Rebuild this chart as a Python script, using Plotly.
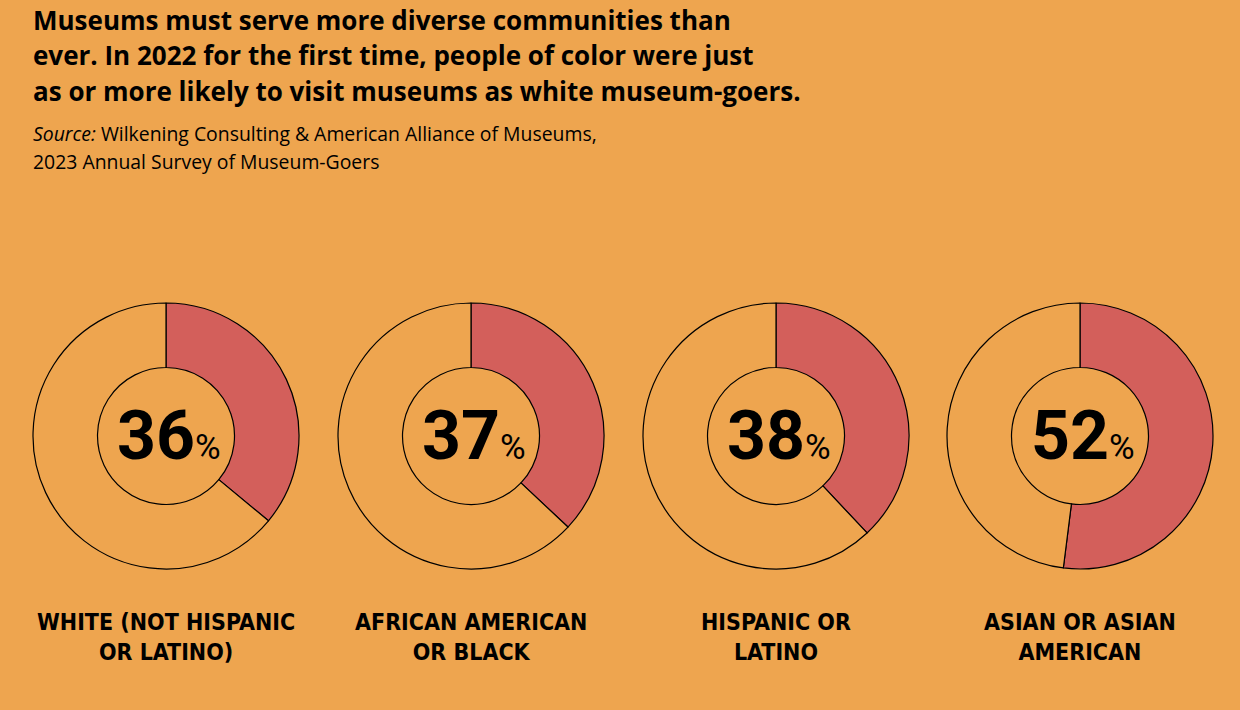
import plotly.graph_objects as go

# ---- data ----
categories = ["WHITE (NOT HISPANIC<br>OR LATINO)", "AFRICAN AMERICAN<br>OR BLACK",
              "HISPANIC OR<br>LATINO", "ASIAN OR ASIAN<br>AMERICAN"]
visit_share = [36, 37, 38, 52]

title_lines = ["Museums must serve more diverse communities than",
               "ever. In 2022 for the first time, people of color were just",
               "as or more likely to visit museums as white museum-goers."]
source_lines = ["<i>Source:</i> Wilkening Consulting & American Alliance of Museums,",
                "2023 Annual Survey of Museum-Goers"]

# ---- style ----
W, H = 1240, 710
BG = "#EEA54F"
RED = "#D35F5B"
centers_x = [166, 471, 776, 1080]
center_y = 436
R = 133
HOLE = 0.515

fig = go.Figure()
annotations = []

for i, (cat, v) in enumerate(zip(categories, visit_share)):
    cx = centers_x[i]
    fig.add_trace(go.Pie(
        values=[v, 100 - v],
        labels=["Visited", "Other"],
        hole=HOLE,
        sort=False,
        direction="clockwise",
        rotation=0,
        marker=dict(colors=[RED, BG], line=dict(color="black", width=1.2)),
        textinfo="none",
        hoverinfo="skip",
        showlegend=False,
        domain=dict(x=[(cx - R) / W, (cx + R) / W],
                    y=[(H - center_y - R) / H, (H - center_y + R) / H]),
    ))
    annotations.append(dict(
        x=(cx + 3) / W, y=(H - center_y) / H, xref="paper", yref="paper",
        xanchor="center", yanchor="middle", showarrow=False,
        text=f"<b>{v}</b><span style='font-size:35px;font-weight:400'>%</span>",
        font=dict(family="Roboto, Liberation Sans, sans-serif", size=68,
                  color="black", weight=900),
    ))
    annotations.append(dict(
        x=cx / W, y=(H - 637) / H, xref="paper", yref="paper",
        xanchor="center", yanchor="middle", showarrow=False,
        text=cat, align="center",
        font=dict(family="DejaVu Sans Condensed, sans-serif",
                  size=23, color="black", weight=700),
    ))

title_mid = [20, 55, 91]
for line, ym in zip(title_lines, title_mid):
    annotations.append(dict(
        x=31 / W, y=(H - ym) / H, xref="paper", yref="paper",
        xanchor="left", yanchor="middle", showarrow=False, text=f"<b>{line}</b>",
        font=dict(family="Open Sans, sans-serif", size=26, color="black"),
    ))
src_mid = [134, 161]
for line, ym in zip(source_lines, src_mid):
    annotations.append(dict(
        x=31 / W, y=(H - ym) / H, xref="paper", yref="paper",
        xanchor="left", yanchor="middle", showarrow=False, text=line,
        font=dict(family="Open Sans, sans-serif", size=19.4, color="black"),
    ))

fig.update_layout(
    width=W, height=H,
    margin=dict(l=0, r=0, t=0, b=0),
    paper_bgcolor=BG, plot_bgcolor=BG,
    annotations=annotations,
)

fig.write_html("out.html", config={"displayModeBar": False},
               post_script="document.body.style.margin='0';")
